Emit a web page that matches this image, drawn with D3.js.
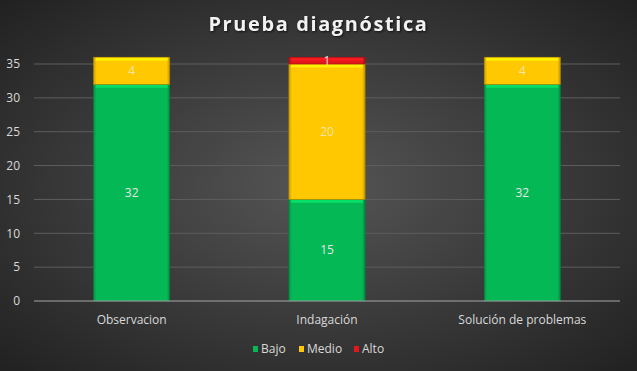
<!DOCTYPE html>
<html>
<head>
<meta charset="utf-8">
<script src="https://cdn.jsdelivr.net/npm/d3@7"></script>
<style>
  html, body { margin: 0; padding: 0; background: #2a2a2a; }
  svg { display: block; font-family: "Open Sans", "Noto Sans", sans-serif; }
</style>
</head>
<body>
<div id="chart"></div>
<script>
const categories = ["Observacion", "Indagación", "Solución de problemas"];
const seriesNames = ["Bajo", "Medio", "Alto"];
const bajo = [32, 15, 32];
const medio = [4, 20, 4];
const alto = [0, 1, 0];
const yTicks = [0, 5, 10, 15, 20, 25, 30, 35];

const colors = { Bajo: "#05b856", Medio: "#ffc800", Alto: "#e3161b" };
const size = { width: 637, height: 371 };
const margin = { top: 64, right: 17, bottom: 70, left: 34 };

const rows = categories.map((c, i) => ({
  category: c, Bajo: bajo[i], Medio: medio[i], Alto: alto[i]
}));

const svg = d3.select("#chart")
  .append("svg")
  .attr("width", size.width)
  .attr("height", size.height);

// dark radial background
const defs = svg.append("defs");
const bg = defs.append("radialGradient")
  .attr("id", "bg").attr("cx", "50%").attr("cy", "50%").attr("r", "72%");
bg.append("stop").attr("offset", "0%").attr("stop-color", "#555555");
bg.append("stop").attr("offset", "100%").attr("stop-color", "#202020");

svg.append("rect")
  .attr("width", size.width).attr("height", size.height)
  .attr("fill", "url(#bg)");

const innerW = size.width - margin.left - margin.right;
const innerH = size.height - margin.top - margin.bottom;

const x = d3.scaleBand()
  .domain(categories)
  .range([0, innerW])
  .paddingInner(0.61)
  .paddingOuter(0.305);

const y = d3.scaleLinear().domain([0, 35]).range([innerH, 0]);

const g = svg.append("g")
  .attr("transform", `translate(${margin.left},${margin.top})`);

// gridlines
g.append("g")
  .selectAll("line")
  .data(yTicks.filter((d) => d > 0))
  .join("line")
  .attr("x1", 0).attr("x2", innerW)
  .attr("y1", (d) => y(d)).attr("y2", (d) => y(d))
  .attr("stroke", "#5e5e5e").attr("stroke-width", 1);

// y axis labels
const yAxis = d3.axisLeft(y).tickValues(yTicks).tickSize(0).tickPadding(14);
g.append("g")
  .call(yAxis)
  .call((s) => s.select(".domain").remove())
  .call((s) => s.selectAll("text")
    .attr("fill", "#d9d9d9").attr("font-size", 12)
    .attr("font-family", "'Open Sans', sans-serif"));

// stacked bars
const stack = d3.stack().keys(seriesNames)(rows);

// bevel gradients per series
seriesNames.forEach((k) => {
  const c = d3.color(colors[k]);
  const lg = defs.append("linearGradient").attr("id", "h-" + k)
    .attr("x1", "0%").attr("x2", "100%");
  lg.append("stop").attr("offset", "0%").attr("stop-color", c.darker(0.6));
  lg.append("stop").attr("offset", "4%").attr("stop-color", c);
  lg.append("stop").attr("offset", "96%").attr("stop-color", c);
  lg.append("stop").attr("offset", "100%").attr("stop-color", c.darker(0.8));
});

const layers = g.append("g")
  .selectAll("g")
  .data(stack)
  .join("g")
  .attr("data-key", (d) => d.key);

layers.selectAll("rect.seg")
  .data((d) => d.map((v) => ({ key: d.key, v })))
  .join("rect")
  .attr("class", "seg")
  .filter((d) => d.v[1] - d.v[0] > 0)
  .attr("x", (d) => x(d.v.data.category))
  .attr("width", x.bandwidth())
  .attr("y", (d) => y(d.v[1]))
  .attr("height", (d) => y(d.v[0]) - y(d.v[1]))
  .attr("fill", (d) => `url(#h-${d.key})`)
  .attr("stroke", (d) => d3.color(colors[d.key]).darker(1))
  .attr("stroke-width", 0.6);

// top highlight strip
layers.selectAll("rect.hi")
  .data((d) => d.map((v) => ({ key: d.key, v })))
  .join("rect")
  .attr("class", "hi")
  .filter((d) => d.v[1] - d.v[0] > 0)
  .attr("x", (d) => x(d.v.data.category) + 2)
  .attr("width", x.bandwidth() - 4)
  .attr("y", (d) => y(d.v[1]) + 0.5)
  .attr("height", 3)
  .attr("fill", (d) => d3.color(colors[d.key]).brighter(0.7))
  .attr("opacity", 0.7);

// value labels
layers.selectAll("text")
  .data((d) => d.map((v) => ({ key: d.key, v })))
  .join("text")
  .filter((d) => d.v[1] - d.v[0] > 0)
  .attr("x", (d) => x(d.v.data.category) + x.bandwidth() / 2)
  .attr("y", (d) => (y(d.v[0]) + y(d.v[1])) / 2)
  .attr("dy", "0.35em")
  .attr("text-anchor", "middle")
  .attr("font-size", 12)
  .attr("fill", (d) => d.key === "Medio" ? "#f3e3a8" : "#e6e6e6")
  .text((d) => d.v[1] - d.v[0]);

// baseline
g.append("line")
  .attr("x1", 0).attr("x2", innerW)
  .attr("y1", innerH).attr("y2", innerH)
  .attr("stroke", "#a6a6a6").attr("stroke-width", 1.2);

// x axis labels
g.append("g")
  .selectAll("text")
  .data(categories)
  .join("text")
  .attr("x", (d) => x(d) + x.bandwidth() / 2)
  .attr("y", innerH + 23)
  .attr("text-anchor", "middle")
  .attr("font-size", 12)
  .attr("fill", "#d9d9d9")
  .text((d) => d);

// title
svg.append("text")
  .attr("x", size.width / 2)
  .attr("y", 31)
  .attr("text-anchor", "middle")
  .attr("font-size", 20)
  .attr("font-weight", "bold")
  .attr("letter-spacing", 1.6)
  .attr("fill", "#f2f2f2")
  .style("filter", "drop-shadow(1px 1px 1px rgba(0,0,0,0.7))")
  .text("Prueba diagnóstica");

// legend
const legendItems = [
  { key: "Bajo", x: 253 },
  { key: "Medio", x: 299 },
  { key: "Alto", x: 354 }
];
const legend = svg.append("g").attr("transform", "translate(0,349)");
const li = legend.selectAll("g").data(legendItems).join("g")
  .attr("transform", (d) => `translate(${d.x},0)`);
li.append("rect")
  .attr("x", 0).attr("y", -3).attr("width", 5).attr("height", 6)
  .attr("fill", (d) => colors[d.key]);
li.append("text")
  .attr("x", 8).attr("y", 0).attr("dy", "0.35em")
  .attr("font-size", 12).attr("fill", "#d9d9d9")
  .text((d) => d.key);
</script>
</body>
</html>
